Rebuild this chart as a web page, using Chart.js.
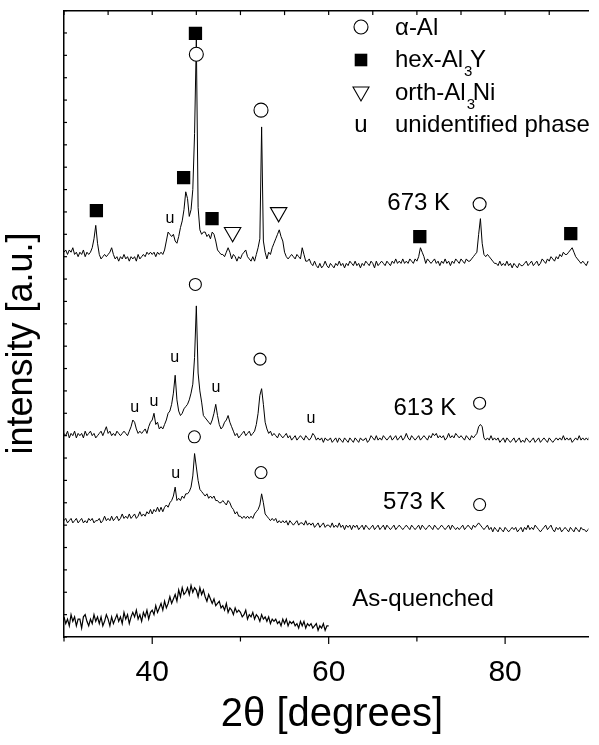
<!DOCTYPE html>
<html><head><meta charset="utf-8">
<script src="https://cdn.jsdelivr.net/npm/chart.js@4.4.1/dist/chart.umd.min.js"></script>
<style>html,body{margin:0;padding:0;overflow:hidden;background:#fff;width:599px;height:745px}canvas{display:block}</style>
</head><body>
<canvas id="c" width="599" height="745" style="width:599px;height:745px"></canvas>
<script>
// 2θ grid of the scans (degrees)
const angleStart = 30, angleStep = 0.2;
// intensities (a.u., stacked as shown in the figure)
const i673 = [
172,173,171,173,172, 174,171,172,170,172, 171,173,170,172,171, 172,174,178,184,176,
171,169,170,171,170, 171,172,174,171,169, 170,168,170,169,171, 169,170,168,170,169,
170,168,171,169,170, 171,170,172,171,172, 171,172,170,172,171, 172,171,173,177,181,
180,179,180,177,176, 179,183,186,191,199, 196,188,191,200,225, 267,192,182,180,181,
181,179,180,178,181, 180,177,173,172,171, 171,170,172,174,172, 169,171,170,168,170,
169,171,172,173,170, 169,168,170,168,171, 174,178,228,177,172, 169,172,171,174,176,
178,180,182,179,177, 172,170,169,170,171, 170,169,171,170,169, 174,171,168,168,169,
167,166,168,166,165, 167,165,166,168,166, 165,167,166,165,167, 166,168,166,167,165,
167,166,168,167,166, 168,166,167,165,167, 166,168,167,166,168, 167,165,168,166,167,
168,167,166,168,167, 166,168,167,169,167, 168,167,169,167,168, 167,169,168,167,169,
168,170,174,172,170, 167,169,168,167,168, 169,167,168,166,168, 167,169,167,168,166,
168,167,169,168,167, 169,168,167,169,168, 168,169,170,171,172, 180,187,176,171,170,
171,170,169,168,167, 167,166,168,166,167, 166,168,166,167,165, 167,166,165,167,166,
166,167,168,166,167, 168,166,167,168,166, 167,169,168,167,169, 168,170,169,168,170,
169,171,170,172,171, 171,172,173,174,172, 170,169,168,167,168, 167,166,168,167,166,
167];
const i613 = [
91,90,92,89,91, 90,92,89,91,90, 91,89,92,90,91, 92,90,91,89,90,
91,92,90,92,94, 91,92,90,91,90, 92,91,90,91,92, 91,90,92,94,97,
96,93,91,92,91, 92,93,91,94,96, 97,100,95,96,93, 94,93,95,97,100,
101,104,109,117,106, 101,99,100,102,103, 104,106,109,113,125, 148,118,110,105,99,
98,97,96,95,97, 100,104,99,95,93, 94,96,97,99,96, 94,92,90,91,89,
90,91,92,90,91, 92,90,91,92,95, 100,108,111,104,96, 93,91,92,90,91,
90,89,91,90,89, 90,91,89,90,88, 89,90,88,89,90, 89,88,90,89,88,
89,91,90,88,89, 88,89,87,89,88, 88,89,87,88,89, 87,89,88,87,89,
88,87,89,88,87, 89,88,87,89,88, 88,89,87,88,90, 89,88,90,88,89,
88,90,89,88,89, 90,88,89,90,88, 89,90,88,89,91, 89,88,90,89,88,
89,90,88,89,90, 89,88,90,89,91, 90,91,89,90,89, 90,88,89,91,89,
90,89,91,90,89, 90,89,88,90,89, 88,90,89,90,91, 94,95,94,89,88,
89,88,90,88,89, 88,89,87,88,89, 87,89,88,87,88, 89,87,88,89,87,
88,87,89,88,87, 88,89,87,88,89, 87,88,89,88,87, 89,88,87,88,89,
88,89,88,90,88, 89,88,89,87,88, 89,88,90,88,89, 88,89,88,90,89,
89];
const i573 = [
52,53,51,52,53, 51,52,53,51,52, 53,51,52,51,53, 52,53,51,52,52,
53,51,52,54,52, 53,52,54,52,53, 54,52,53,55,53, 54,53,55,53,54,
55,53,54,56,54, 55,54,56,55,57, 55,57,56,58,56, 58,56,58,59,58,
60,61,63,67,61, 62,61,63,62,64, 64,65,67,72,82, 76,70,66,65,64,
63,64,62,63,62, 63,61,61,60,60, 61,60,59,61,60, 58,57,55,56,54,
54,53,54,53,54, 53,54,53,55,56, 57,59,64,60,55, 54,53,52,53,52,
53,51,52,51,52, 51,52,50,52,51, 50,51,52,50,51, 51,50,52,50,51,
50,51,49,50,51, 49,50,51,49,50, 50,49,51,49,50, 49,51,49,50,48,
50,49,50,48,50, 49,50,48,49,50, 48,50,49,48,49, 50,48,49,50,48,
49,50,48,50,49, 48,49,50,48,49, 50,49,48,49,50, 49,48,50,49,48,
49,50,48,50,49, 48,49,50,49,48, 50,49,48,49,50, 49,48,49,50,48,
50,49,48,49,48, 49,50,48,49,50, 49,48,50,49,50, 51,50,49,48,49,
50,48,49,47,49, 48,47,49,48,47, 49,48,47,48,49, 48,49,47,48,49,
47,49,48,50,48, 49,48,50,49,48, 47,48,49,50,48, 49,50,48,47,49,
48,49,47,48,49, 48,47,49,48,47, 49,48,47,49,48, 48,47,48,49,47,
48];
const iAsQuenched = [
9,6,8,5,10, 7,9,5,8,8, 4,9,10,7,5, 8,6,10,7,9, 6,9,5,7,10, 8,5,9,6,8,
10,7,9,6,11, 8,10,6,9,11, 9,12,8,10,7, 11,9,12,8,11, 12,10,14,11,13, 15,12,16,13,15,
18,15,17,19,16, 21,18,22,19,20, 22,19,23,20,22, 21,18,22,19,21, 18,16,19,17,15, 17,14,15,16,13,
14,12,15,11,13, 12,10,13,11,12, 11,9,10,12,8, 10,9,11,8,10, 9,7,10,8,9, 7,9,6,8,7,
8,6,7,5,8, 6,8,5,7,6, 7,5,6,4,7, 5,7,4,6,5, 6,4,5,6,3, 5,4,6,3,5,
5];
const series = [i673, i613, i573, iAsQuenched];
const sampleLabels = ['673 K', '613 K', '573 K', 'As-quenched'];
const xTickLabels = [40, 60, 80];

// identified reflections (2θ, marker height)
const alphaAl = [[45.0,260.5],[52.33,235.5],[77.11,193.5],[44.89,157.6],[52.22,124.2],[77.11,104.5],[44.78,89.5],[52.33,73.5],[77.11,59.2]];
const alphaAlRadius = [7,7,6.5,6,6,6,6,6,6];
const hexAl3Y = [[33.67,190.6],[44.9,269.8],[43.56,205.3],[46.78,187.0],[70.33,179.0],[87.44,180.3]];
const orthAl3Ni = [[49.11,180.9],[54.33,189.8]];
const unidentified = [[42.0,187.0],[38.0,102.4],[40.2,105.1],[42.56,124.7],[47.22,111.3],[58.0,97.5],[42.67,73.0]];
const sampleLabelPos = [[70.2,193.7],[70.9,102.4],[69.7,60.1],[70.7,16.9]];

const FONT = '"Liberation Sans", Arial, Helvetica, sans-serif';

function toPoints(arr) { return arr.map((v, i) => ({x: +(angleStart + i * angleStep).toFixed(2), y: v})); }

const datasets = [
  {type:'scatter', data: alphaAl.map(p=>({x:p[0],y:p[1]})), pointStyle:'circle', pointRadius: alphaAlRadius, backgroundColor:'#fff', borderColor:'#000', borderWidth:1.1, order:0},
  {type:'scatter', data: hexAl3Y.map(p=>({x:p[0],y:p[1]})), pointStyle:'rect', pointRadius: 9.4, backgroundColor:'#000', borderColor:'#000', borderWidth:0, order:0},
  {type:'scatter', data: orthAl3Ni.map(p=>({x:p[0],y:p[1]})), pointStyle:'triangle', rotation:180, pointRadius: 9.5, backgroundColor:'#fff', borderColor:'#000', borderWidth:1.1, order:0},
];
series.forEach((s, k) => datasets.push({type:'line', label: sampleLabels[k], data: toPoints(s), borderColor:'#000', borderWidth: k === 3 ? 1.2 : 1, pointRadius:0, tension:0, fill:false, order:1}));

const decor = {
  id: 'decor',
  afterDatasetsDraw(chart) {
    const {ctx, scales:{x, y}, chartArea:a} = chart;
    ctx.save();
    ctx.strokeStyle = '#000'; ctx.lineWidth = 1.2;
    const seg = (x1,y1,x2,y2)=>{ctx.beginPath();ctx.moveTo(x1,y1);ctx.lineTo(x2,y2);ctx.stroke();};
    for (let v = 30; v <= 80; v += 10) { const px = x.getPixelForValue(v); seg(px, a.bottom, px, a.bottom + (xTickLabels.includes(v) ? 7 : 4.5)); }
    for (let v = 30; v <= 85; v += 5) { const px = x.getPixelForValue(v); seg(px, a.top, px, a.top + 4.5); }
    for (let v = 0; v <= 280; v += 10) { const py = y.getPixelForValue(v); seg(a.left, py, a.left + 3, py); }
    ctx.fillStyle = '#000';
    ctx.textAlign = 'center'; ctx.textBaseline = 'middle';
    ctx.font = '16px ' + FONT;
    unidentified.forEach(p => ctx.fillText('u', x.getPixelForValue(p[0]), y.getPixelForValue(p[1])));
    ctx.font = '24px ' + FONT;
    sampleLabels.forEach((t, k) => ctx.fillText(t, x.getPixelForValue(sampleLabelPos[k][0]), y.getPixelForValue(sampleLabelPos[k][1])));
    // legend
    const mx = 361, tx = 395, rows = [35, 67, 100, 132];
    ctx.lineWidth = 1.1;
    ctx.beginPath(); ctx.arc(mx, 27, 7, 0, Math.PI*2); ctx.fillStyle='#fff'; ctx.fill(); ctx.stroke();
    ctx.fillStyle = '#000'; ctx.fillRect(mx - 6.3, 60 - 6.3, 12.6, 12.6);
    ctx.beginPath(); ctx.moveTo(mx - 8, 87); ctx.lineTo(mx + 8, 87); ctx.lineTo(mx, 101); ctx.closePath(); ctx.stroke();
    ctx.textBaseline = 'alphabetic';
    ctx.font = '24px ' + FONT;
    ctx.textAlign = 'center'; ctx.fillText('u', mx, rows[3]); ctx.textAlign = 'left';
    ctx.fillText('α-Al', tx, rows[0]);
    ctx.fillText('unidentified phase', tx, rows[3]);
    const sub = (pre, post, base) => {
      ctx.font = '24px ' + FONT; ctx.fillText(pre, tx, base);
      const w = ctx.measureText(pre).width;
      ctx.font = '15px ' + FONT; ctx.fillText('3', tx + w + 1, base + 9);
      ctx.font = '24px ' + FONT; ctx.fillText(post, tx + w + 7, base);
    };
    sub('hex-Al', 'Y', rows[1]);
    sub('orth-Al', 'Ni', rows[2]);
    // axis titles
    ctx.textAlign = 'center'; ctx.textBaseline = 'middle';
    ctx.font = '40px ' + FONT;
    ctx.fillText('2θ [degrees]', 332, 715);
    ctx.save(); ctx.translate(22, 343.5); ctx.rotate(-Math.PI/2);
    ctx.font = '36px ' + FONT; ctx.fillText('intensity [a.u.]', 0, 0); ctx.restore();
    ctx.restore();
  }
};

new Chart(document.getElementById('c'), {
  data: {datasets},
  options: {
    responsive:false, animation:false, devicePixelRatio:1,
    layout:{padding:{top:8, right:0, left:0, bottom:0}},
    plugins:{legend:{display:false}, tooltip:{enabled:false}},
    scales:{
      x:{type:'linear', position:'bottom', min:30, max:89.44,
         afterBuildTicks(s){ s.ticks = [30,40,50,60,70,80].map(v=>({value:v})); },
         ticks:{autoSkip:false, maxRotation:0, padding:18, color:'#000', font:{family:FONT, size:30},
                callback:v=> xTickLabels.includes(v) ? String(v) : ''},
         grid:{display:false, drawTicks:false}, border:{display:true, color:'#000', width:1.5},
         afterFit(s){ s.height = 108; }},
      x2:{type:'linear', position:'top', min:30, max:89.44, ticks:{display:false}, grid:{display:false, drawTicks:false},
          border:{display:true, color:'#000', width:1.5}, afterFit(s){ s.height = 0; }},
      y:{type:'linear', position:'left', min:0, max:280, ticks:{display:false}, grid:{display:false, drawTicks:false},
         border:{display:true, color:'#000', width:1.5}, afterFit(s){ s.width = 64; }}
    }
  },
  plugins:[decor]
});
</script>
</body></html>
